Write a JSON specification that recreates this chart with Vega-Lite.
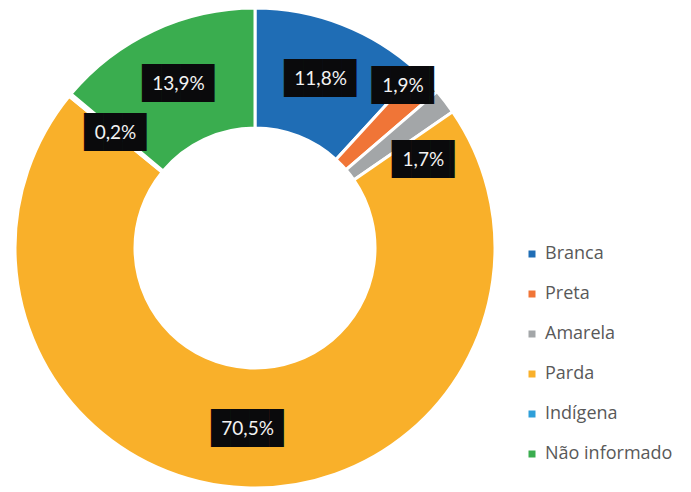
{
  "$schema": "https://vega.github.io/schema/vega-lite/v6.json",
  "width": 510,
  "height": 496,
  "autosize": "none",
  "padding": {"left": 0, "top": 0, "right": 181, "bottom": 0},
  "background": "white",
  "config": {"view": {"stroke": null}},
  "data": {
    "values": [
      {"i": 1, "cat": "Branca", "value": 11.8, "label": "11,8%"},
      {"i": 2, "cat": "Preta", "value": 1.9, "label": "1,9%"},
      {"i": 3, "cat": "Amarela", "value": 1.7, "label": "1,7%"},
      {"i": 4, "cat": "Parda", "value": 70.5, "label": "70,5%"},
      {"i": 5, "cat": "Indígena", "value": 0.2, "label": "0,2%"},
      {"i": 6, "cat": "Não informado", "value": 13.9, "label": "13,9%"}
    ]
  },
  "encoding": {
    "theta": {"field": "value", "type": "quantitative", "stack": true},
    "order": {"field": "i", "type": "quantitative"}
  },
  "layer": [
    {
      "mark": {"type": "arc", "outerRadius": 240, "innerRadius": 120, "stroke": "white", "strokeWidth": 3},
      "encoding": {
        "color": {
          "field": "cat",
          "type": "nominal",
          "scale": {
            "domain": ["Branca", "Preta", "Amarela", "Parda", "Indígena", "Não informado"],
            "range": ["#1F6DB5", "#F07537", "#A3A6A8", "#F9B02A", "#2E9FD9", "#3AAD4F"]
          },
          "legend": {
            "orient": "none",
            "legendX": 523,
            "legendY": 245,
            "title": null,
            "padding": 0,
            "symbolType": "square",
            "symbolSize": 49,
            "symbolStrokeWidth": 0,
            "labelFont": "Open Sans",
            "labelFontSize": 18,
            "labelColor": "#595959",
            "labelOffset": 4,
            "rowPadding": 22
          }
        }
      }
    },
    {
      "mark": {"type": "text", "font": "DejaVu Sans Mono", "fontSize": 32, "color": "#0a0a0c", "radius": 181, "dx": 2},
      "encoding": {
        "text": {"condition": {"test": "datum.cat == 'Branca' || datum.cat == 'Parda' || datum.cat == 'Não informado'", "value": "███▊"}, "value": ""}
      }
    },
    {
      "mark": {"type": "text", "font": "DejaVu Sans Mono", "fontSize": 32, "color": "#0a0a0c", "radius": 181, "dx": 7},
      "encoding": {
        "text": {"condition": {"test": "datum.cat == 'Indígena'", "value": "███▎"}, "value": ""}
      }
    },
    {
      "mark": {"type": "text", "font": "DejaVu Sans Mono", "fontSize": 32, "color": "#0a0a0c", "radius": 220, "dx": -3, "dy": -9},
      "encoding": {
        "text": {"condition": {"test": "datum.cat == 'Preta'", "value": "███▎"}, "value": ""}
      }
    },
    {
      "mark": {"type": "text", "font": "DejaVu Sans Mono", "fontSize": 32, "color": "#0a0a0c", "radius": 181, "dx": 32, "dy": 22},
      "encoding": {
        "text": {"condition": {"test": "datum.cat == 'Amarela'", "value": "███▎"}, "value": ""}
      }
    },
    {
      "mark": {"type": "text", "font": "Lato", "fontSize": 19, "color": "#F2F2F2", "radius": 181},
      "encoding": {
        "text": {"condition": {"test": "datum.cat != 'Preta' && datum.cat != 'Amarela'", "field": "label"}, "value": ""}
      }
    },
    {
      "mark": {"type": "text", "font": "Lato", "fontSize": 19, "color": "#F2F2F2", "radius": 220, "dx": -10, "dy": -9},
      "encoding": {
        "text": {"condition": {"test": "datum.cat == 'Preta'", "field": "label"}, "value": ""}
      }
    },
    {
      "mark": {"type": "text", "font": "Lato", "fontSize": 19, "color": "#F2F2F2", "radius": 181, "dx": 25, "dy": 22},
      "encoding": {
        "text": {"condition": {"test": "datum.cat == 'Amarela'", "field": "label"}, "value": ""}
      }
    }
  ]
}
